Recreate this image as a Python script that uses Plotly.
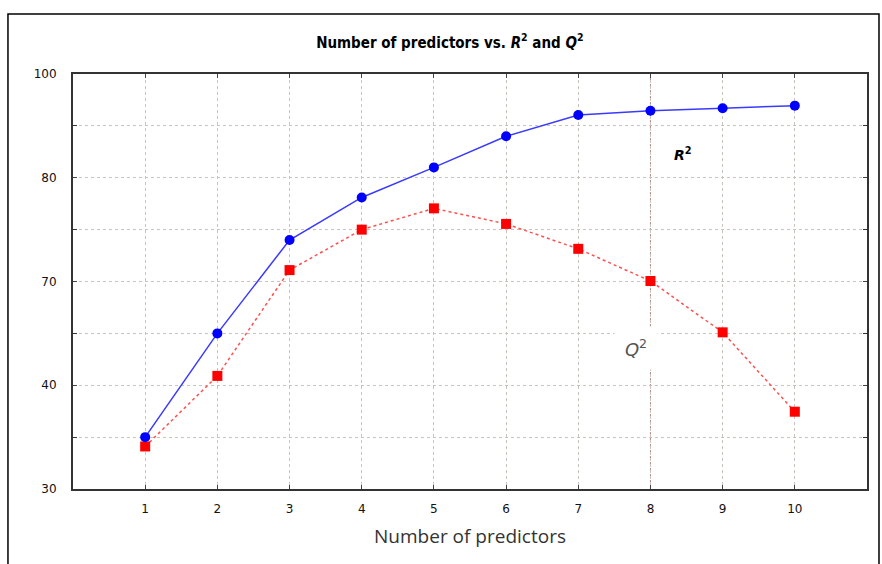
import plotly.graph_objects as go

# Data (y in gridline units: 0 = "30" line, 8 = "100" line)
predictors = [1, 2, 3, 4, 5, 6, 7, 8, 9, 10]
r2 = [1.0, 3.0, 4.8, 5.62, 6.2, 6.8, 7.21, 7.29, 7.34, 7.39]
q2 = [0.82, 2.18, 4.22, 5.0, 5.41, 5.11, 4.63, 4.01, 3.02, 1.49]
y_tick_pos = [0, 2, 4, 6, 8]
y_tick_text = ["30", "40", "70", "80", "100"]
x_ticks = [1, 2, 3, 4, 5, 6, 7, 8, 9, 10]

fig = go.Figure()
fig.add_trace(go.Scatter(
    x=predictors, y=q2, mode="lines+markers", name="Q2",
    line=dict(color="#ff5050", width=1.5, dash="dot"),
    marker=dict(symbol="square", size=10, color="#ff0000"),
))
fig.add_trace(go.Scatter(
    x=predictors, y=r2, mode="lines+markers", name="R2",
    line=dict(color="#3a3aff", width=1.5),
    marker=dict(symbol="circle", size=10, color="#0000ff"),
))

tick_font = dict(family="DejaVu Sans", size=12, color="#111111")

fig.update_layout(
    width=882, height=564,
    margin=dict(l=73, r=15, t=74, b=75),
    paper_bgcolor="white", plot_bgcolor="white",
    showlegend=False,
    title=dict(
        text="<b>Number of predictors vs. <i>R</i><sup>2</sup> and <i>Q</i><sup>2</sup></b>",
        x=0.51, xanchor="center", y=0.925, yanchor="middle",
        font=dict(family="DejaVu Sans Condensed", size=15, color="black"),
    ),
    xaxis=dict(
        range=[0, 11], tickvals=x_ticks, ticks="inside", ticklen=4,
        showline=True, linecolor="#333333", linewidth=2, mirror="ticks",
        showgrid=True, gridcolor="#c8c4bc", griddash="dot", gridwidth=1,
        zeroline=False, tickfont=tick_font, ticklabelstandoff=8,
        title=dict(text="Number of predictors",
                   font=dict(family="Open Sans", size=19, color="#333333"),
                   standoff=14),
    ),
    yaxis=dict(
        range=[0, 8], tickvals=y_tick_pos, ticktext=y_tick_text,
        ticks="inside", ticklen=4,
        showline=True, linecolor="#333333", linewidth=2, mirror="ticks",
        showgrid=True, gridcolor="#c8c4bc", griddash="dot", gridwidth=1,
        zeroline=False, tickfont=tick_font, ticklabelstandoff=12,
        minor=dict(tick0=0, dtick=1, ticks="inside", ticklen=4,
                   showgrid=True, gridcolor="#c8c4bc", griddash="dot",
                   gridwidth=1, tickcolor="#333333"),
    ),
)

# reddish gridline at x=8
fig.add_shape(type="line", xref="x", yref="y", x0=8, x1=8, y0=0, y1=8,
              line=dict(color="#b08a8a", width=1, dash="dot"), layer="below")

fig.add_annotation(x=8.45, y=6.45, xref="x", yref="y",
                   text="<b><i>R</i><sup>2</sup></b>", showarrow=False,
                   font=dict(family="DejaVu Sans", size=14, color="black"))
fig.add_annotation(x=7.8, y=2.72, xref="x", yref="y",
                   text="<i>Q</i><sup>2</sup>", showarrow=False,
                   bgcolor="white", width=40, height=40,
                   font=dict(family="DejaVu Sans", size=18, color="#555555"))

# outer frame
fig.add_shape(type="rect", xref="paper", yref="paper",
              x0=-0.0819, x1=1.0151, y0=-0.3, y1=1.1446,
              line=dict(color="black", width=1.5))

fig.write_html("out.html")
